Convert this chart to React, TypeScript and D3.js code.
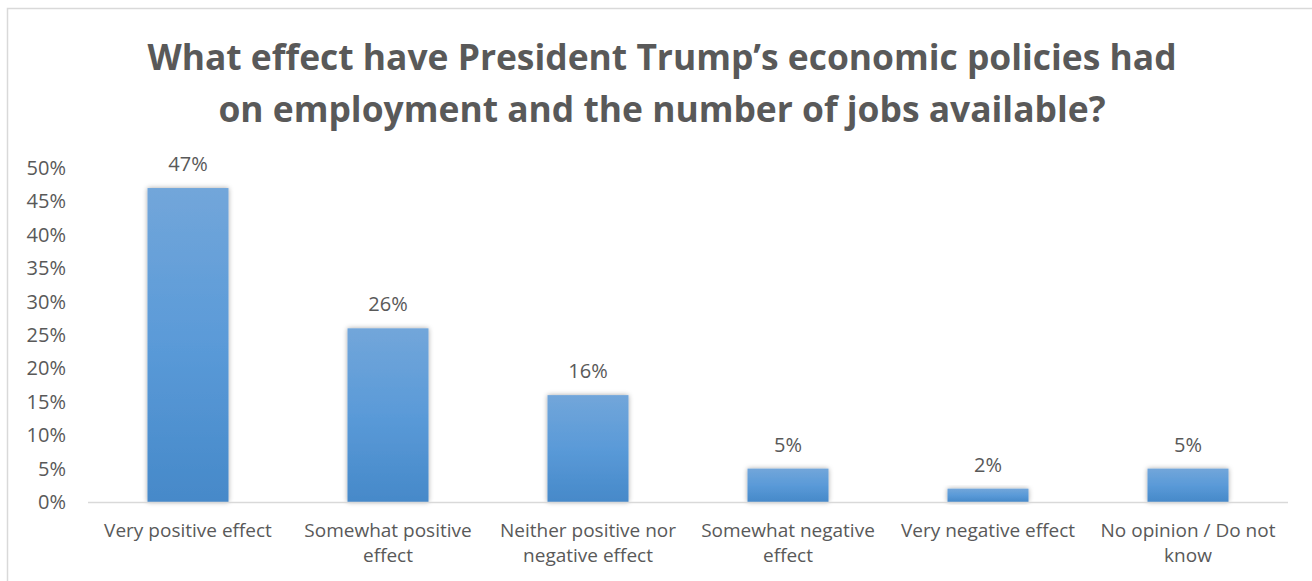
import React from "react";
import * as d3 from "d3";

const categories: string[][] = [
  ["Very positive effect"],
  ["Somewhat positive", "effect"],
  ["Neither positive nor", "negative effect"],
  ["Somewhat negative", "effect"],
  ["Very negative effect"],
  ["No opinion / Do not", "know"],
];
const values: number[] = [0.47, 0.26, 0.16, 0.05, 0.02, 0.05];
const yTicks: number[] = [0, 0.05, 0.1, 0.15, 0.2, 0.25, 0.3, 0.35, 0.4, 0.45, 0.5];
const titleLines: string[] = [
  "What effect have President Trump’s economic policies had",
  "on employment and the number of jobs available?",
];

export default function App() {
  const W = 1312, H = 581;
  const left = 88, right = 1288, top = 168, bottom = 502;
  const x = d3.scaleBand<number>().domain(d3.range(values.length)).range([left, right]).paddingInner(0.595).paddingOuter(0.2975);
  const y = d3.scaleLinear().domain([0, 0.5]).range([bottom, top]);
  const font = "'Open Sans', sans-serif";
  const grey = "#595959";
  return (
    <svg width={W} height={H} style={{ position: "absolute", left: 0, top: 0 }}>
      <defs>
        <linearGradient id="barGrad" x1="0" y1="0" x2="0" y2="1">
          <stop offset="0" stopColor="#72a6da" />
          <stop offset="0.5" stopColor="#5a9ad8" />
          <stop offset="1" stopColor="#4689c9" />
        </linearGradient>
        <filter id="shadow" x="-20%" y="-20%" width="140%" height="140%">
          <feDropShadow dx="0" dy="0" stdDeviation="2.5" floodColor="#000" floodOpacity="0.35" />
        </filter>
      </defs>
      <rect x={0} y={0} width={W} height={H} fill="#fff" />
      <rect x={7.5} y={8.5} width={W + 20} height={H + 20} fill="#fff" stroke="#d9d9d9" strokeWidth={1.5} />
      {titleLines.map((t, i) => (
        <text key={i} x={662} y={70 + i * 52} textAnchor="middle" fontFamily={font} fontWeight={700} fontSize={35.4} fill={grey}>
          {t}
        </text>
      ))}
      {yTicks.map((t) => (
        <text key={t} x={66} y={y(t)} dy="0.35em" textAnchor="end" fontFamily={font} fontSize={20} fill={grey}>
          {d3.format(".0%")(t)}
        </text>
      ))}
      {values.map((v, i) => (
        <g key={i}>
          <rect x={x(i)} y={y(v)} width={x.bandwidth()} height={bottom - y(v)} fill="url(#barGrad)" filter="url(#shadow)" />
          <text x={(x(i) as number) + x.bandwidth() / 2} y={y(v) - 17} textAnchor="middle" fontFamily={font} fontSize={20} fill={grey}>
            {d3.format(".0%")(v)}
          </text>
          {categories[i].map((line, j) => (
            <text key={j} x={(x(i) as number) + x.bandwidth() / 2} y={537 + j * 25} textAnchor="middle" fontFamily={font} fontSize={19} fill={grey}>
              {line}
            </text>
          ))}
        </g>
      ))}
      <line x1={left} x2={right} y1={bottom + 0.5} y2={bottom + 0.5} stroke="#d9d9d9" strokeWidth={1.5} />
    </svg>
  );
}
